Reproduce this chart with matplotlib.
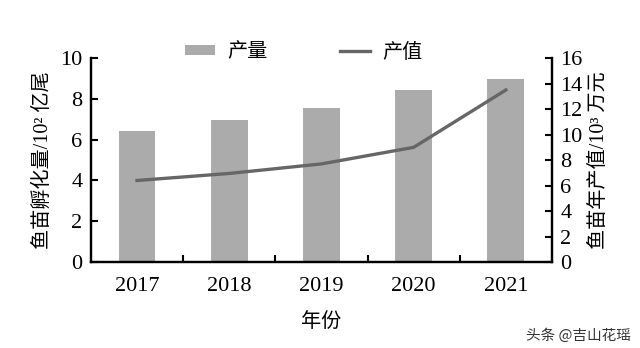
import numpy as np
import matplotlib
matplotlib.use('Agg')
from matplotlib import pyplot as plt

# fry hatching output (10^2 100 million fish) and annual output value (10^3 10k yuan)
years = ['2017', '2018', '2019', '2020', '2021']
hatch_amount = [6.45, 6.95, 7.55, 8.45, 9.0]
output_value = [6.4, 6.95, 7.7, 9.0, 13.5]

cjk = ['Liberation Serif', 'Noto Sans CJK SC']
plt.rcParams['font.family'] = cjk
plt.rcParams['font.size'] = 14.5

bar_color = '#ababab'
line_color = '#666666'

fig = plt.figure(figsize=(6.4, 3.48), dpi=100)
ax = fig.add_axes([0.142, 0.247, 0.7205, 0.586])
ax2 = ax.twinx()

x = np.arange(len(years))
bars = ax.bar(x, hatch_amount, width=0.4, color=bar_color, label='产量')
line, = ax2.plot(x, output_value, color=line_color, lw=2.4, label='产值')

ax.set_xlim(-0.5, len(years) - 0.5)
ax.set_ylim(0, 10)
ax2.set_ylim(0, 16)
ax.set_yticks(np.arange(0, 11, 2))
ax2.set_yticks(np.arange(0, 17, 2))

# year labels at bar centres, tick marks between categories
ax.set_xticks(x, years)
ax.tick_params(axis='x', length=0, pad=11, labelsize=16)
ax.set_xticks(x[:-1] + 0.5, minor=True)
ax.tick_params(axis='x', which='minor', direction='in', length=5, width=1.5)
ax.tick_params(axis='y', direction='in', length=5, width=1.5, pad=6, labelsize=16)
ax2.tick_params(axis='y', direction='in', length=5, width=1.5, pad=6, labelsize=16)

for a in (ax, ax2):
    a.spines['top'].set_visible(False)
    for s in ('left', 'right', 'bottom'):
        a.spines[s].set_linewidth(1.6)

ax.set_xlabel('年份', labelpad=12)
ax.set_ylabel('鱼苗孵化量/10² 亿尾', labelpad=5)
ax2.set_ylabel('鱼苗年产值/10³ 万元', labelpad=5)

fig.legend([bars, line], ['产量', '产值'], loc='center', ncol=2,
           bbox_to_anchor=(303.5 / 640, 1 - 53 / 348), frameon=False,
           handlelength=1.5, handleheight=0.4, handletextpad=0.6,
           columnspacing=3.6, borderpad=0)

fig.text(0.985, 0.035, '头条 @吉山花瑶', ha='right', va='center',
         fontsize=10.5, color='#333333', family='Noto Sans CJK SC')

fig.savefig('out.png', dpi=100)
